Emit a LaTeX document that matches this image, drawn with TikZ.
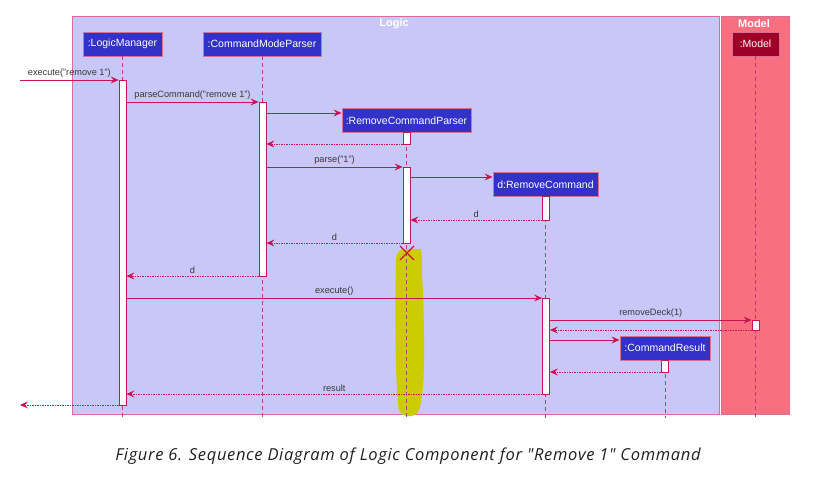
\documentclass[tikz,border=0pt]{standalone}
\usepackage{fontspec}
\setmainfont{Liberation Sans}
\newfontfamily\capfont[LetterSpace=4]{Open Sans}
\usetikzlibrary{arrows.meta}

\definecolor{logicbg}{RGB}{200,200,248}
\definecolor{modelbg}{RGB}{248,112,128}
\definecolor{framecol}{RGB}{218,110,150}
\definecolor{partblue}{RGB}{50,50,200}
\definecolor{partred}{RGB}{160,0,40}
\definecolor{msgcol}{RGB}{200,20,80}
\definecolor{lifecol}{RGB}{190,60,110}
\definecolor{hilite}{RGB}{204,204,0}
\definecolor{labgray}{RGB}{55,55,55}

\tikzset{
    participant/.style={draw=framecol, line width=0.9pt, fill=partblue, text=white,
        font=\fontsize{10.5}{11}\selectfont, inner sep=0pt, minimum height=24pt},
    bar/.style={draw=msgcol, fill=white, line width=0.8pt, minimum width=7pt, inner sep=0pt},
    msg/.style={draw=msgcol, line width=0.8pt, -{Stealth[length=8pt,width=7pt,inset=3pt]}},
    ret/.style={msg, dash pattern=on 1.5pt off 1pt},
    lifeline/.style={draw=lifecol, line width=0.8pt, dash pattern=on 4pt off 3pt},
    lbl/.style={font=\fontsize{9.2}{10}\selectfont, text=labgray, above, inner sep=2pt},
    framelbl/.style={font=\bfseries\fontsize{11}{12}\selectfont, text=white}
}

\begin{document}
\begin{tikzpicture}[x=1pt, y=-1pt]
    \useasboundingbox (0,0) rectangle (821,478);

    % frames
    \fill[logicbg] (72,16) rectangle (719,414);
    \draw[framecol, line width=0.9pt] (72,16) rectangle (719,414);
    \fill[modelbg] (721,16) rectangle (789,414);
    \draw[framecol, line width=0.9pt] (721,16) rectangle (789,414);
    \node[framelbl] (logiclbl) at (394,23.5) {Logic};
    \node[framelbl] (modellbl) at (754,23.5) {Model};

    % highlight
    \fill[hilite] (396,262) .. controls (396,250) and (400,249) .. (410,249) -- (421,249)
        .. controls (423,262) and (421,272) .. (423,290) -- (424,330)
        .. controls (425,380) and (422,405) .. (418,412)
        .. controls (414,418) and (402,418) .. (399,410)
        .. controls (395,390) and (395,300) .. (396,262) -- cycle;

    % participants
    \node[participant, minimum width=79pt] (lm) at (122.5,44) {:LogicManager};
    \node[participant, minimum width=118pt] (cmp) at (262,44) {:CommandModeParser};
    \node[participant, minimum width=129pt] (rcp) at (406.5,120.5) {:RemoveCommandParser};
    \node[participant, minimum width=105pt] (rc) at (545.5,184.5) {d:RemoveCommand};
    \node[participant, minimum width=90pt] (cr) at (665,348) {:CommandResult};
    \node[participant, minimum width=47pt, fill=partred] (mod) at (755.5,44) {:Model};

    % lifelines
    \coordinate (bot) at (0,418);
    \foreach \p in {lm,cmp,rcp,rc,cr,mod}
        \draw[lifeline] (\p.south) -- (\p.south |- bot);

    % activation bars
    \node[bar, minimum height=325pt] (lmA) at (122.5,242.5) {};
    \node[bar, minimum height=174pt] (cmpA) at (262.5,189) {};
    \node[bar, minimum height=12pt] (rcpA) at (406.5,138) {};
    \node[bar, minimum height=76pt] (rcpB) at (406.5,205) {};
    \node[bar, minimum height=24pt] (rcA) at (546,208) {};
    \node[bar, minimum height=96pt] (rcB) at (546,346) {};
    \node[bar, minimum height=10pt] (modA) at (755.5,325) {};
    \node[bar, minimum height=12pt] (crA) at (664.5,366) {};

    % message rows
    \coordinate (entry) at (20,80);
    \coordinate (exit) at (20,405);
    \coordinate (m2) at (0,102);
    \coordinate (m3) at (0,113);
    \coordinate (m4) at (0,144);
    \coordinate (m5) at (0,167);
    \coordinate (m6) at (0,177);
    \coordinate (m7) at (0,220);
    \coordinate (m8) at (0,243);
    \coordinate (m10) at (0,276);
    \coordinate (m11) at (0,298);
    \coordinate (m12) at (0,320);
    \coordinate (m13) at (0,330);
    \coordinate (m14) at (0,340);
    \coordinate (m15) at (0,372);
    \coordinate (m16) at (0,394);

    % messages
    \draw[msg] (entry) -- (lmA.west |- entry) node[lbl, midway] {execute("remove 1")};
    \draw[msg] (lmA.east |- m2) -- (cmpA.west |- m2) node[lbl, midway] {parseCommand("remove 1")};
    \draw[msg] (cmpA.east |- m3) -- (rcp.west |- m3);
    \draw[ret] (rcpA.west |- m4) -- (cmpA.east |- m4);
    \draw[msg] (cmpA.east |- m5) -- (rcpB.west |- m5) node[lbl, midway] {parse("1")};
    \draw[msg] (rcpB.east |- m6) -- (rc.west |- m6);
    \draw[ret] (rcA.west |- m7) -- (rcpB.east |- m7) node[lbl, midway] {d};
    \draw[ret] (rcpB.west |- m8) -- (cmpA.east |- m8) node[lbl, midway] {d};
    \draw[ret] (cmpA.west |- m10) -- (lmA.east |- m10) node[lbl, midway] {d};
    \draw[msg] (lmA.east |- m11) -- (rcB.west |- m11) node[lbl, midway] {execute()};
    \draw[msg] (rcB.east |- m12) -- (modA.west |- m12) node[lbl, midway] {removeDeck(1)};
    \draw[ret] (modA.west |- m13) -- (rcB.east |- m13);
    \draw[msg] (rcB.east |- m14) -- (cr.west |- m14);
    \draw[ret] (crA.west |- m15) -- (rcB.east |- m15);
    \draw[ret] (rcB.west |- m16) -- (lmA.east |- m16) node[lbl, midway] {result};
    \draw[ret] (lmA.west |- exit) -- (exit);

    % destroy
    \coordinate (kill) at (407,253);
    \draw[msgcol, line width=1.2pt] (kill) +(-7,-7) -- +(7,7) (kill) +(-7,7) -- +(7,-7);

    % caption
    \node[font=\capfont\itshape\fontsize{16.5}{18}\selectfont, text=black!88] (caption) at (408,456)
        {Figure 6. Sequence Diagram of Logic Component for "Remove 1" Command};
\end{tikzpicture}
\end{document}
